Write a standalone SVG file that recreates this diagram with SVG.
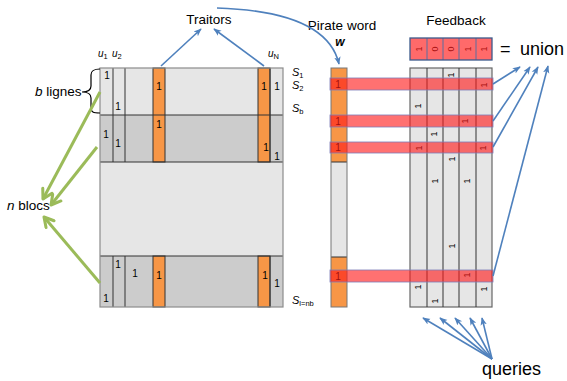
<svg xmlns="http://www.w3.org/2000/svg" width="567" height="381" viewBox="0 0 567 381">
  <style>
    text { font-family: "Liberation Sans", Arial, sans-serif; fill: #000; }
    .lbl { font-size: 13.5px; }
    .big { font-size: 18px; }
    .one { font-size: 10px; }
    .rot { font-size: 9px; }
    .it { font-style: italic; }
    .sub { font-size: 7.5px; font-style: normal; }
    .light { fill: #e6e6e6; }
    .dark { fill: #cccccc; }
    .orange { fill: #f79646; stroke: #333; stroke-width: 1; }
    .grid { stroke: #333; stroke-width: 1; fill: none; }
    .frame { fill: none; stroke: #8c8c8c; stroke-width: 1.2; }
    .bar { fill: #ff1a1a; fill-opacity: 0.62; stroke: #7d7db8; stroke-width: 0.8; }
    .blue { fill: none; stroke: #4f81bd; stroke-width: 1.6; marker-end: url(#ahBlue); }
    .green { fill: none; stroke: #9bbb59; stroke-width: 3; marker-end: url(#ahGreen); }
  </style>
  <defs>
    <marker id="ahBlue" viewBox="0 0 10 10" refX="9" refY="5" markerWidth="8" markerHeight="8" markerUnits="userSpaceOnUse" orient="auto">
      <path d="M0,1 L10,5 L0,9 L2.5,5 z" fill="#4f81bd"/>
    </marker>
    <marker id="ahGreen" viewBox="0 0 12 12" refX="10" refY="6" markerWidth="14" markerHeight="14" markerUnits="userSpaceOnUse" orient="auto">
      <path d="M2,1.5 L10,6 L2,10.5" fill="none" stroke="#9bbb59" stroke-width="2.6" stroke-linecap="round" stroke-linejoin="round"/>
    </marker>
  </defs>

  <!-- Titles -->
  <g id="title-traitors"><text class="lbl" x="209" y="24" text-anchor="middle">Traitors</text></g>
  <g id="title-pirate">
    <text class="lbl" x="342" y="30" text-anchor="middle">Pirate word</text>
    <text x="340" y="46" text-anchor="middle" font-size="12" font-weight="bold" font-style="italic">w</text>
  </g>
  <g id="title-feedback"><text class="lbl" x="456" y="25" text-anchor="middle">Feedback</text></g>

  <!-- Code matrix: n blocks of b lines -->
  <g id="code-matrix">
    <rect class="light" x="100" y="68" width="183" height="47"/>
    <rect class="dark" x="100" y="115" width="183" height="47"/>
    <rect class="light" x="100" y="162" width="183" height="94"/>
    <rect class="dark" x="100" y="256" width="183" height="51"/>
    <!-- traitor columns -->
    <rect class="orange" x="153" y="68" width="12" height="94"/>
    <rect class="orange" x="258" y="68" width="12" height="94"/>
    <rect class="orange" x="153" y="256" width="12" height="51" stroke-width="1.4" stroke="#222"/>
    <rect class="orange" x="258" y="256" width="12" height="51"/>
    <!-- grid lines -->
    <path class="grid" d="M113,68 V162 M125,68 V162 M270,68 V162 M113,256 V307 M125,256 V307 M270,256 V307 M100,115 H283 M100,162 H283 M100,256 H283"/>
    <rect class="frame" x="100" y="68" width="183" height="239"/>
    <!-- ones -->
    <g class="one" text-anchor="middle">
      <text x="107" y="79">1</text>
      <text x="118" y="110">1</text>
      <text x="159" y="90">1</text>
      <text x="264" y="90">1</text>
      <text x="277" y="90">1</text>
      <text x="106" y="138">1</text>
      <text x="118" y="147">1</text>
      <text x="159" y="128">1</text>
      <text x="266" y="151">1</text>
      <text x="277" y="160">1</text>
      <text x="118" y="268">1</text>
      <text x="135" y="277">1</text>
      <text x="159" y="279">1</text>
      <text x="106" y="302">1</text>
      <text x="265" y="279">1</text>
      <text x="277" y="287">1</text>
    </g>
  </g>

  <!-- user labels -->
  <g id="user-labels" font-size="10">
    <text class="it" x="98" y="57">u<tspan class="sub" dy="2">1</tspan></text>
    <text class="it" x="112" y="57">u<tspan class="sub" dy="2">2</tspan></text>
    <text class="it" x="268" y="57">u<tspan class="sub" dy="2">N</tspan></text>
  </g>

  <!-- sequence labels -->
  <g id="row-labels" font-size="11">
    <text class="it" x="292" y="76">S<tspan class="sub" dy="2">1</tspan></text>
    <text class="it" x="292" y="89">S<tspan class="sub" dy="2">2</tspan></text>
    <text class="it" x="292" y="112">S<tspan class="sub" dy="2">b</tspan></text>
    <text class="it" x="292" y="304">S<tspan class="sub" dy="2">l=nb</tspan></text>
  </g>

  <!-- b lignes / n blocs -->
  <g id="label-b">
    <text class="lbl" x="35" y="96"><tspan font-style="italic">b</tspan> lignes</text>
    <path d="M100,69 C93,69 91,71 91,75 V86 C91,90 87,92 82,92 C87,92 91,94 91,98 V108 C91,112 93,113 100,113" fill="none" stroke="#000" stroke-width="1.2"/>
  </g>
  <g id="label-n"><text class="lbl" x="7" y="210"><tspan font-style="italic">n</tspan> blocs</text></g>

  <!-- Pirate word column -->
  <g id="pirate-word">
    <rect x="331" y="68" width="16" height="94" fill="#f79646"/>
    <rect x="331" y="162" width="16" height="95" fill="#e6e6e6"/>
    <rect x="331" y="257" width="16" height="50" fill="#f79646"/>
    <path class="grid" d="M331,162 H347 M331,257 H347" stroke="#555"/>
    <rect x="331" y="68" width="16" height="239" fill="none" stroke="#777" stroke-width="1"/>
    <g class="one" text-anchor="middle">
      <text x="338" y="88">1</text>
      <text x="338" y="125">1</text>
      <text x="338" y="151">1</text>
      <text x="338" y="280">1</text>
    </g>
  </g>

  <!-- Feedback matrix -->
  <g id="feedback-matrix">
    <rect x="410" y="68" width="82" height="239" fill="#e6e6e6" stroke="#666" stroke-width="1.2"/>
    <path class="grid" d="M427,68 V307 M443,68 V307 M459,68 V307 M476,68 V307" stroke="#444"/>
    <g class="rot" text-anchor="middle" dominant-baseline="central">
      <text transform="translate(451,75) rotate(-90)">1</text>
      <text transform="translate(484,85) rotate(-90)">1</text>
      <text transform="translate(418,106) rotate(-90)">1</text>
      <text transform="translate(465,121) rotate(-90)">1</text>
      <text transform="translate(434,134) rotate(-90)">1</text>
      <text transform="translate(419,148) rotate(-90)">1</text>
      <text transform="translate(483,148) rotate(-90)">1</text>
      <text transform="translate(452,159) rotate(-90)">1</text>
      <text transform="translate(435,181) rotate(-90)">1</text>
      <text transform="translate(467,181) rotate(-90)">1</text>
      <text transform="translate(452,246) rotate(-90)">1</text>
      <text transform="translate(467,275) rotate(-90)">1</text>
      <text transform="translate(418,287) rotate(-90)">1</text>
      <text transform="translate(484,289) rotate(-90)">1</text>
      <text transform="translate(435,301) rotate(-90)">1</text>
    </g>
  </g>

  <!-- Feedback result row -->
  <g id="feedback-row">
    <g class="rot" text-anchor="middle" dominant-baseline="central">
      <text transform="translate(418.5,49) rotate(-90)">1</text>
      <text transform="translate(435,49) rotate(-90)">0</text>
      <text transform="translate(451,49) rotate(-90)">0</text>
      <text transform="translate(467.5,49) rotate(-90)">1</text>
      <text transform="translate(484,49) rotate(-90)">1</text>
    </g>
    <rect x="410" y="38" width="82" height="22" fill="#ff1a1a" fill-opacity="0.65"/>
    <path d="M427,38 V60 M443,38 V60 M459,38 V60 M476,38 V60" stroke="#5a6fa0" stroke-width="1"/>
    <rect x="410" y="38" width="82" height="22" fill="none" stroke="#3c5a8c" stroke-width="1.3"/>
  </g>
  <g id="label-union">
    <text class="big" x="500" y="55">=</text>
    <text class="big" x="520" y="55">union</text>
  </g>

  <!-- Highlighted positions -->
  <g id="selected-rows">
    <rect class="bar" x="330" y="78" width="163" height="12"/>
    <rect class="bar" x="330" y="115" width="163" height="12"/>
    <rect class="bar" x="330" y="142" width="163" height="11"/>
    <rect class="bar" x="330" y="270" width="163" height="12"/>
  </g>

  <g id="label-queries"><text class="big" x="482" y="375">queries</text></g>

  <!-- Connectors -->
  <g id="connectors">
    <path class="blue" d="M161,66 L201,29"/>
    <path class="blue" d="M264,66 L214,29"/>
    <path class="blue" d="M217,8 C280,10 330,25 339,64"/>
    <path class="blue" d="M493,84 L520,67"/>
    <path class="blue" d="M493,121 L530,67"/>
    <path class="blue" d="M493,147 L538,67"/>
    <path class="blue" d="M493,276 L548,66"/>
    <path class="blue" d="M492,359 L423,318"/>
    <path class="blue" d="M492,359 L440,318"/>
    <path class="blue" d="M492,359 L455,318"/>
    <path class="blue" d="M492,359 L470,318"/>
    <path class="blue" d="M492,359 L482,318"/>
    <path class="green" d="M100,92 L43,199"/>
    <path class="green" d="M97,147 L51,205"/>
    <path class="green" d="M100,283 L44,217"/>
  </g>
</svg>
